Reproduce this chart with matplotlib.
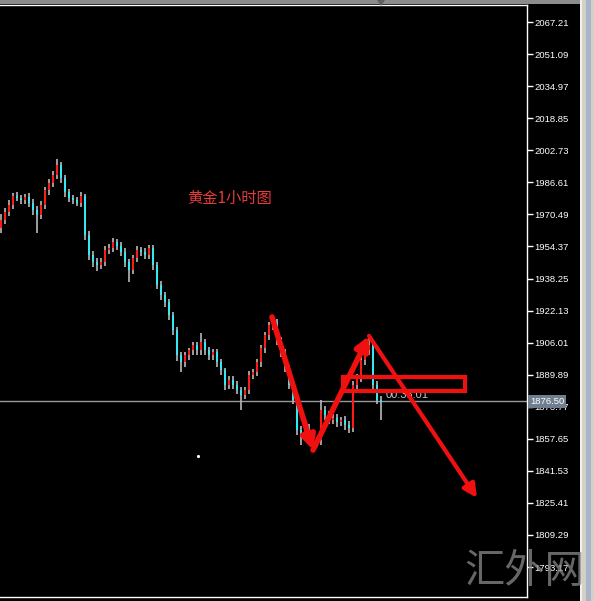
import numpy as np
import matplotlib.pyplot as plt
from matplotlib.patches import Rectangle, Polygon
import matplotlib.transforms as mtransforms

plt.rcParams['font.family'] = ['Liberation Sans', 'Noto Sans CJK SC', 'DejaVu Sans']

# Данные свечей (часовой график золота)
opens = [1964.0, 1967.7, 1971.7, 1975.2, 1979.8, 1978.7, 1977.7, 1979.2, 1976.2, 1972.7,
         1970.2, 1975.2, 1982.8, 1986.3, 1990.3, 1995.3, 1988.8, 1981.8, 1978.7, 1977.7,
         1976.2, 1979.8, 1960.1, 1950.1, 1946.6, 1945.1, 1946.6, 1952.6, 1953.6, 1956.6,
         1954.6, 1951.6, 1946.6, 1942.5, 1948.6, 1952.6, 1951.6, 1950.1, 1953.6, 1945.1,
         1935.0, 1930.0, 1926.5, 1919.9, 1912.4, 1899.8, 1896.3, 1899.8, 1902.3, 1904.8,
         1902.3, 1906.3, 1902.3, 1899.8, 1901.3, 1896.3, 1892.3, 1884.7, 1887.2, 1884.7,
         1882.2, 1879.7, 1882.2, 1889.7, 1891.2, 1896.3, 1903.3, 1909.9, 1914.9, 1916.4,
         1907.3, 1901.3, 1893.3, 1884.7, 1877.2, 1862.1, 1859.6, 1863.1, 1858.1, 1856.1,
         1857.1, 1872.2, 1869.6, 1867.1, 1868.1, 1866.1, 1867.1, 1864.6, 1863.1, 1884.7,
         1888.2, 1897.3, 1902.3, 1904.8, 1884.7, 1877.2]
closes = [1967.7, 1971.7, 1975.2, 1979.8, 1978.7, 1977.7, 1979.2, 1976.2, 1972.7, 1970.2,
          1975.2, 1982.8, 1986.3, 1990.3, 1995.3, 1988.8, 1981.8, 1978.7, 1977.7, 1976.2,
          1979.8, 1960.1, 1950.1, 1946.6, 1945.1, 1946.6, 1952.6, 1953.6, 1956.6, 1954.6,
          1951.6, 1946.6, 1942.5, 1948.6, 1952.6, 1951.6, 1950.1, 1953.6, 1945.1, 1935.0,
          1930.0, 1926.5, 1919.9, 1912.4, 1899.8, 1896.3, 1899.8, 1902.3, 1904.8, 1902.3,
          1906.3, 1902.3, 1899.8, 1901.3, 1896.3, 1892.3, 1884.7, 1887.2, 1884.7, 1882.2,
          1879.7, 1882.2, 1889.7, 1891.2, 1896.3, 1903.3, 1909.9, 1914.9, 1916.4, 1907.3,
          1901.3, 1893.3, 1884.7, 1877.2, 1862.1, 1859.6, 1863.1, 1858.1, 1856.1, 1857.1,
          1872.2, 1869.6, 1867.1, 1868.1, 1866.1, 1867.1, 1864.6, 1863.1, 1884.7, 1888.2,
          1897.3, 1902.3, 1904.8, 1884.7, 1877.2, 1876.5]
highs = [1970.5, 1973.5, 1977.5, 1981.5, 1981.8, 1980.5, 1981.0, 1981.2, 1978.0, 1974.5,
         1977.0, 1984.5, 1988.5, 1992.5, 1998.3, 1997.0, 1990.5, 1983.5, 1980.5, 1979.5,
         1981.8, 1981.0, 1962.0, 1952.0, 1948.5, 1948.5, 1954.5, 1955.5, 1958.6, 1958.0,
         1956.5, 1953.5, 1948.0, 1950.0, 1954.5, 1954.0, 1953.5, 1955.1, 1955.0, 1946.5,
         1937.0, 1931.5, 1928.0, 1921.5, 1914.0, 1901.5, 1901.5, 1903.5, 1906.5, 1906.5,
         1910.9, 1908.0, 1904.0, 1902.8, 1903.0, 1898.0, 1893.5, 1889.0, 1889.0, 1886.5,
         1883.5, 1883.8, 1891.5, 1893.0, 1898.0, 1905.0, 1911.5, 1916.5, 1919.4, 1918.0,
         1909.0, 1903.0, 1895.0, 1886.0, 1879.0, 1864.0, 1865.0, 1865.0, 1860.0, 1858.5,
         1877.2, 1874.0, 1871.5, 1870.0, 1870.0, 1868.5, 1869.0, 1866.5, 1886.5, 1890.0,
         1899.0, 1904.0, 1908.8, 1906.5, 1886.5, 1879.0]
lows = [1961.0, 1965.5, 1969.5, 1973.0, 1977.0, 1975.5, 1975.5, 1974.0, 1970.0, 1961.2,
        1968.0, 1973.0, 1980.5, 1984.5, 1988.5, 1986.5, 1979.5, 1976.5, 1975.5, 1974.5,
        1974.0, 1957.5, 1947.5, 1944.0, 1942.0, 1943.0, 1944.5, 1950.5, 1951.5, 1952.5,
        1949.5, 1944.0, 1936.5, 1940.5, 1946.5, 1949.5, 1948.0, 1948.0, 1942.5, 1933.0,
        1927.5, 1924.0, 1917.5, 1910.0, 1897.0, 1891.3, 1894.0, 1897.5, 1900.0, 1900.0,
        1900.0, 1900.0, 1897.5, 1897.5, 1894.0, 1889.5, 1882.0, 1882.5, 1882.5, 1880.0,
        1872.2, 1877.5, 1880.0, 1887.5, 1889.0, 1894.0, 1901.0, 1907.5, 1912.5, 1905.0,
        1899.0, 1891.0, 1882.5, 1875.0, 1859.5, 1854.6, 1857.0, 1856.0, 1852.0, 1853.5,
        1854.5, 1867.0, 1865.0, 1865.0, 1863.5, 1864.0, 1862.0, 1860.5, 1861.0, 1882.5,
        1886.0, 1895.0, 1900.0, 1882.5, 1875.0, 1867.1]

price_ticks = [2067.21, 2051.09, 2034.97, 2018.85, 2002.73, 1986.61, 1970.49, 1954.37,
               1938.25, 1922.13, 1906.01, 1889.89, 1873.77, 1857.65, 1841.53, 1825.41,
               1809.29, 1793.17]
last_price = 1876.50
timer_text = "00:35:01"
title_text = "黄金1小时图"

# разметка: зигзаг (индекс бара, цена) и прямоугольник
zigzag_x = [67.75, 78.0, 92.0, 119.0]
zigzag_y = [1918.9, 1852.0, 1909.4, 1827.9]
box_x = [85.5, 116.0]
box_y = [1881.7, 1888.7]

W, H = 594, 601
fig = plt.figure(figsize=(W / 100, H / 100), dpi=100, facecolor='black')
ax = fig.add_axes([0, 4 / H, 527 / W, 592 / H], facecolor='black')

idx = np.arange(len(opens))
o = np.array(opens)
c = np.array(closes)
up = c >= o
body_col = np.where(up, '#ff1a1a', '#33e8f0')

# тени и тела свечей
ax.vlines(idx, lows, highs, color='#b8b8b8', lw=1.2, zorder=2)
ax.bar(idx, np.abs(c - o) + 0.3, bottom=np.minimum(o, c) - 0.15, width=0.65,
       color=body_col, zorder=3, linewidth=0)

ax.set_xlim(-0.25, 131.5)
ax.set_ylim(1778.1, 2075.8)

# линия текущей цены
ax.axhline(last_price, color='#9a9a9a', lw=1, zorder=1)

# шкала цен справа
ax.yaxis.tick_right()
ax.set_yticks(price_ticks)
ax.set_yticklabels([f"{p:.2f}" for p in price_ticks])
ax.tick_params(axis='y', colors='white', labelcolor='white', labelsize=6.8,
               length=4, width=1, pad=1.5, direction='out')
ax.set_xticks([])
for s in ['top', 'bottom', 'right']:
    ax.spines[s].set_color('white')
    ax.spines[s].set_linewidth(1)
ax.spines['left'].set_visible(False)

trans = mtransforms.blended_transform_factory(ax.transAxes, ax.transData)
ax.text(1.006, last_price, f"{last_price:.2f}", transform=trans, ha='left', va='center',
        fontsize=6.8, color='white', zorder=10, clip_on=False,
        bbox=dict(boxstyle='square,pad=0.18', fc='#6f7f8f', ec='none'))

# текст
ax.text(96.2, 1879.7, timer_text, color='#c8c8c8', fontsize=8, ha='left', va='center',
        zorder=4)
ax.text(57.2, 1978.6, title_text, color='#e83a3a', fontsize=11, ha='center', va='center',
        family=['Noto Sans CJK SC', 'DejaVu Sans'])

ax.plot([49.25], [1849.0], marker='.', color='white', ms=2.5)

# красные стрелки
red = '#f01010'
lws = [4, 4, 3]
for k in range(3):
    ax.annotate('', xy=(zigzag_x[k + 1], zigzag_y[k + 1]),
                xytext=(zigzag_x[k], zigzag_y[k]),
                arrowprops=dict(arrowstyle='-|>', color=red, lw=lws[k],
                                mutation_scale=20, shrinkA=0, shrinkB=0),
                zorder=6, annotation_clip=False)

ax.add_patch(Rectangle((box_x[0], box_y[0]), box_x[1] - box_x[0], box_y[1] - box_y[0],
                       fill=False, ec=red, lw=3, zorder=6))

# оформление окна терминала
fig.patches.append(Rectangle((581 / W, 0), 13 / W, 1, transform=fig.transFigure,
                             fc='#d4d0c8', ec='none'))
fig.patches.append(Rectangle((580 / W, 0), 1.5 / W, 1, transform=fig.transFigure,
                             fc='#f0f0f0', ec='none'))
fig.patches.append(Rectangle((586 / W, 0), 5 / W, 1, transform=fig.transFigure,
                             fc='#a8b4c8', ec='none'))
fig.patches.append(Rectangle((0, 597 / H), 580 / W, 4 / H, transform=fig.transFigure,
                             fc='#8c8c8c', ec='none'))
fig.patches.append(Polygon([(377 / W, 1.0), (385 / W, 1.0), (381 / W, 595 / H)],
                           closed=True, transform=fig.transFigure, fc='#606060', ec='none'))

# водяной знак
fig.text(525 / W, 30 / H, "汇外网", fontsize=29, color='#8a8a8a', alpha=0.75,
         ha='center', va='center', family=['Noto Sans CJK SC'], fontweight='light')

fig.savefig('out.png', dpi=100, facecolor='black')
